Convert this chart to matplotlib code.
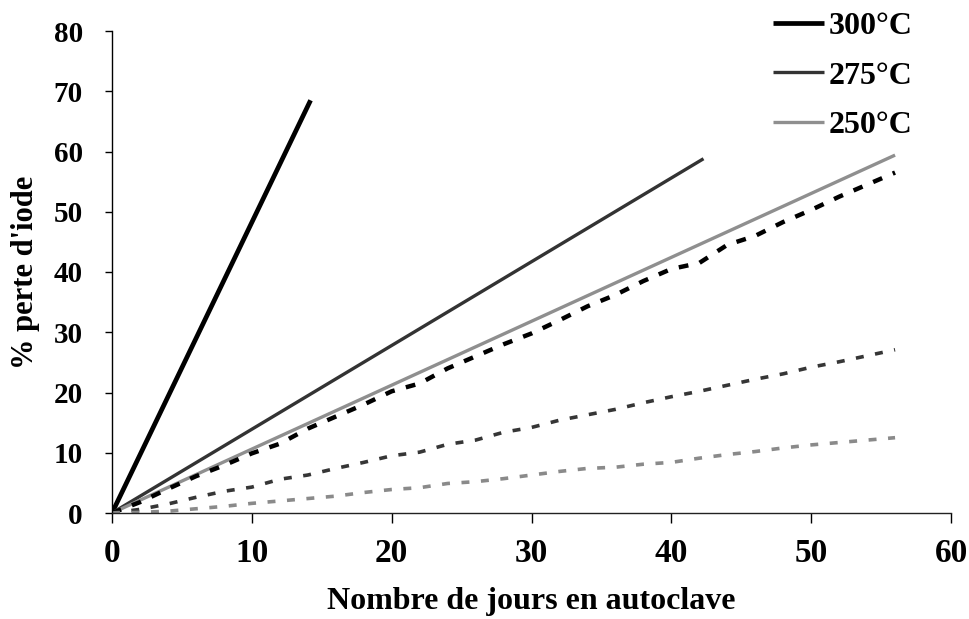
import matplotlib
matplotlib.use("Agg")
import matplotlib.pyplot as plt

# Solid (fitted) lines
x300 = [0, 14.2]
y300 = [0, 68.5]
x275 = [0, 42.3]
y275 = [0, 58.8]
x250 = [0, 56]
y250 = [0, 59.4]

# Dashed (measured) series
xd = [0, 2, 4, 6, 8, 10, 12, 14, 16, 18, 20, 22, 24, 26, 28, 30, 32, 34, 36, 38, 40, 42, 44, 46, 48, 50, 52, 54, 56]
yd_black = [0, 1.8, 4.0, 6.1, 7.9, 9.9, 11.5, 14.0, 16.0, 18.0, 20.2, 21.5, 24.0, 26.0, 28.0, 29.8, 32.0,
            34.3, 36.2, 38.5, 40.5, 41.5, 44.5, 46.0, 48.3, 50.3, 52.5, 54.5, 56.5]
yd_mid = [0, 0.6, 1.5, 2.6, 3.6, 4.3, 5.6, 6.3, 7.4, 8.4, 9.5, 10.1, 11.4, 12.1, 13.4, 14.2, 15.4,
          16.3, 17.2, 18.3, 19.3, 20.2, 21.2, 22.2, 23.1, 24.2, 25.1, 26.1, 27.1]
yd_light = [0, 0.1, 0.3, 0.7, 1.1, 1.6, 2.0, 2.4, 2.8, 3.4, 3.9, 4.2, 4.9, 5.2, 5.7, 6.3, 6.9,
            7.4, 7.6, 8.1, 8.4, 9.1, 9.7, 10.2, 10.8, 11.3, 11.7, 12.1, 12.5]

legend_labels = ["300°C", "275°C", "250°C"]
xticks = [0, 10, 20, 30, 40, 50, 60]
yticks = [0, 10, 20, 30, 40, 50, 60, 70, 80]

plt.rcParams['font.family'] = ['Liberation Serif', 'DejaVu Serif']
plt.rcParams['font.weight'] = 'bold'

W, H = 969, 619
fig = plt.figure(figsize=(W/100, H/100), dpi=100)
ax = fig.add_axes([112/W, (H-513)/H, 839/W, 482/H])

l1, = ax.plot(x300, y300, color='black', lw=3.4, solid_capstyle='butt')
l2, = ax.plot(x275, y275, color='#333333', lw=2.4, solid_capstyle='butt')
l3, = ax.plot(x250, y250, color='#8f8f8f', lw=2.4, solid_capstyle='butt')

ax.plot(xd, yd_black, color='black', lw=3.2, dashes=(2.2, 2.6))
ax.plot(xd, yd_mid, color='#363636', lw=2.6, dashes=(2.2, 3.2))
ax.plot(xd, yd_light, color='#8a8a8a', lw=2.6, dashes=(2.2, 3.2))

ax.set_xlim(0, 60)
ax.set_ylim(0, 80)
ax.set_xticks(xticks)
ax.set_yticks(yticks)
ax.tick_params(axis='y', direction='out', length=5, width=1.0, colors='black',
               labelsize=21, pad=16)
ax.tick_params(axis='x', direction='out', length=7, width=1.0, colors='black',
               labelsize=24, pad=11)
for lab in ax.get_xticklabels() + ax.get_yticklabels():
    lab.set_fontweight('bold')

for s in ['top', 'right']:
    ax.spines[s].set_visible(False)
ax.spines['left'].set_linewidth(1.0)
ax.spines['bottom'].set_linewidth(1.0)
ax.spines['bottom'].set_color('#222222')

ax.set_xlabel("Nombre de jours en autoclave", fontsize=23, fontweight='bold', labelpad=13)
ax.set_ylabel("% perte d'iode", fontsize=22, fontweight='bold', labelpad=10)

leg = fig.legend([l1, l2, l3], legend_labels, loc='upper right',
                 bbox_to_anchor=(913/W, 1 - 12/H), bbox_transform=fig.transFigure,
                 frameon=False, prop={'size': 23, 'weight': 'bold'}, handlelength=1.6,
                 handletextpad=0.15, labelspacing=0.62, borderaxespad=0, borderpad=0)

fig.savefig("out.png", dpi=100)
